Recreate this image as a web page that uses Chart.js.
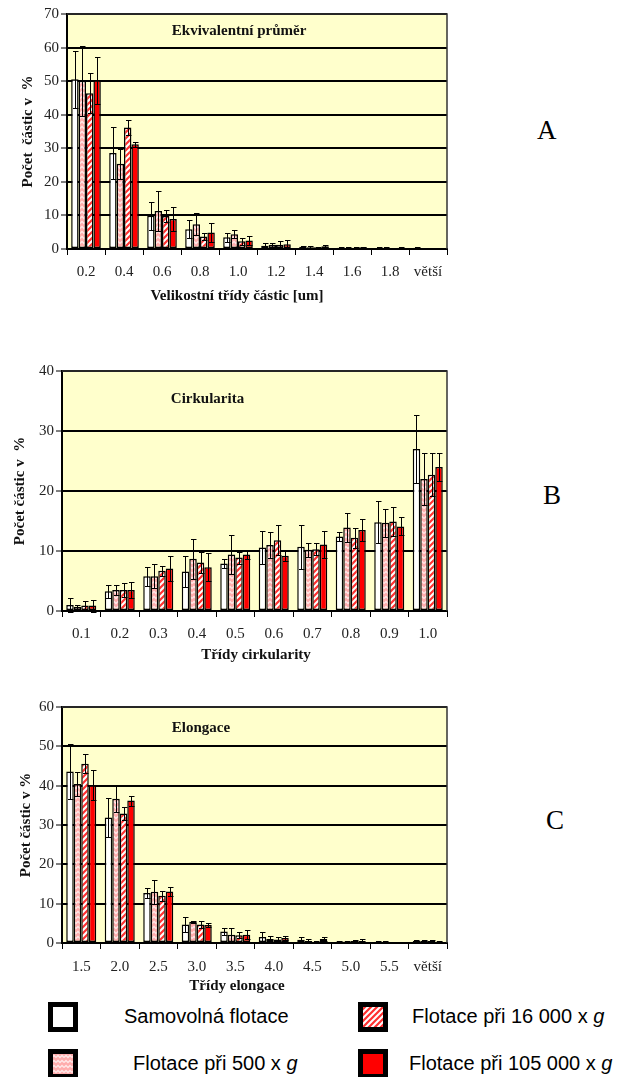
<!DOCTYPE html>
<html lang="cs">
<head>
<meta charset="utf-8">
<title>Počet částic v %</title>
<script src="https://cdn.jsdelivr.net/npm/chart.js@4.4.1/dist/chart.umd.min.js"></script>
<style>
  html, body { margin: 0; padding: 0; background: #fff; }
  body { width: 630px; height: 1077px; position: relative; overflow: hidden; }
  .panel { position: absolute; left: 0; }
  .letter { position: absolute; font-family: "Liberation Serif", "Times New Roman", serif; font-size: 27px; line-height: 30px; color: #000; }
  .lg-box { position: absolute; }
  .lg-text { position: absolute; font-family: "Liberation Sans", Arial, sans-serif; font-size: 20px; line-height: 24px; color: #000; white-space: nowrap; }
</style>
</head>
<body>
<canvas id="chartA" class="panel" width="460" height="310" style="top:0px"></canvas>
<canvas id="chartB" class="panel" width="460" height="330" style="top:340px"></canvas>
<canvas id="chartC" class="panel" width="460" height="320" style="top:680px"></canvas>

<div class="letter" style="left:537px; top:115px">A</div>
<div class="letter" style="left:543px; top:480px">B</div>
<div class="letter" style="left:546px; top:805px">C</div>

<canvas id="lg0" class="lg-box" width="30" height="30" style="left:48px; top:1002px"></canvas>
<div class="lg-text" style="left:124px; top:1004px">Samovolná flotace</div>
<canvas id="lg2" class="lg-box" width="30" height="30" style="left:358px; top:1002px"></canvas>
<div class="lg-text" style="left:412px; top:1004px">Flotace při 16 000 x <i>g</i></div>
<canvas id="lg1" class="lg-box" width="30" height="30" style="left:48px; top:1049px"></canvas>
<div class="lg-text" style="left:133px; top:1051px">Flotace při 500 x <i>g</i></div>
<canvas id="lg3" class="lg-box" width="30" height="30" style="left:358px; top:1049px"></canvas>
<div class="lg-text" style="left:409px; top:1051px">Flotace při 105 000 x <i>g</i></div>

<script>
// --- data ---
const seriesNames = ['Samovolná flotace', 'Flotace při 500 x g', 'Flotace při 16 000 x g', 'Flotace při 105 000 x g'];

// A - Ekvivalentni prumer
const sizeClasses = ['0.2', '0.4', '0.6', '0.8', '1.0', '1.2', '1.4', '1.6', '1.8', 'větší'];
const sizeSamovolna = [50.6, 28.6, 9.9, 5.9, 3.5, 1.0, 0.7, 0.4, 0.3, 0.4];
const sizeErrSamovolna = [8.5, 7.7, 4.2, 2.7, 1.4, 0.9, 0.3, 0.2, 0.2, 0.1];
const size500 = [50.1, 25.4, 11.3, 7.4, 4.4, 1.3, 0.5, 0.3, 0.4, 0.3];
const sizeErr500 = [10.5, 4.5, 6.0, 3.3, 1.2, 0.6, 0.3, 0.2, 0.2, 0.1];
const size16000 = [46.4, 36.2, 9.8, 3.7, 2.3, 1.3, 0.5, 0.4, 0.2, 0.2];
const sizeErr16000 = [6.0, 2.2, 1.8, 1.0, 1.0, 1.2, 0.2, 0.2, 0.1, 0.1];
const size105000 = [50.3, 31.2, 8.9, 4.9, 2.5, 1.4, 0.8, 0.5, 0.4, 0.2];
const sizeErr105000 = [7.0, 0.8, 3.5, 2.7, 1.4, 1.3, 0.3, 0.2, 0.2, 0.1];
const sizeTicks = [0, 10, 20, 30, 40, 50, 60, 70];

// B - Cirkularita
const circClasses = ['0.1', '0.2', '0.3', '0.4', '0.5', '0.6', '0.7', '0.8', '0.9', '1.0'];
const circSamovolna = [1.0, 3.3, 5.8, 6.6, 7.9, 10.6, 10.7, 12.4, 14.8, 27.0];
const circErrSamovolna = [1.1, 1.1, 1.6, 2.6, 0.8, 2.8, 3.7, 0.8, 3.5, 5.7];
const circ500 = [0.7, 3.5, 5.8, 8.7, 9.4, 11.0, 10.2, 13.9, 14.7, 22.0];
const circErr500 = [0.3, 0.9, 2.0, 3.3, 3.3, 2.1, 1.2, 2.4, 2.3, 4.3];
const circ16000 = [0.9, 3.5, 6.7, 8.1, 8.9, 11.8, 10.3, 12.2, 14.9, 22.7];
const circErr16000 = [0.7, 1.1, 0.8, 1.8, 1.0, 2.5, 1.0, 1.7, 2.4, 3.6];
const circ105000 = [0.9, 3.5, 7.1, 7.3, 9.4, 9.2, 11.1, 13.5, 14.1, 24.0];
const circErr105000 = [1.0, 1.3, 2.1, 2.3, 0.7, 0.8, 2.2, 1.8, 1.5, 2.3];
const circTicks = [0, 10, 20, 30, 40];

// C - Elongace
const elongClasses = ['1.5', '2.0', '2.5', '3.0', '3.5', '4.0', '4.5', '5.0', '5.5', 'větší'];
const elongSamovolna = [43.6, 31.9, 12.7, 4.7, 2.9, 1.5, 0.8, 0.4, 0.3, 0.5];
const elongErrSamovolna = [7.0, 4.9, 1.2, 1.8, 0.9, 1.2, 0.6, 0.2, 0.1, 0.2];
const elong500 = [40.4, 36.7, 13.0, 5.4, 2.1, 1.0, 0.5, 0.4, 0.3, 0.6];
const elongErr500 = [3.0, 3.4, 3.0, 0.3, 1.8, 0.7, 0.5, 0.2, 0.1, 0.2];
const elong16000 = [45.6, 32.9, 12.0, 4.7, 2.0, 0.9, 0.3, 0.5, 0.2, 0.5];
const elongErr16000 = [2.4, 1.7, 1.2, 0.8, 0.7, 0.5, 0.2, 0.2, 0.1, 0.2];
const elong105000 = [40.1, 36.2, 13.1, 4.6, 2.1, 1.3, 1.0, 0.5, 0.2, 0.4];
const elongErr105000 = [3.8, 1.3, 1.2, 0.6, 1.1, 0.5, 0.4, 0.5, 0.1, 0.2];
const elongTicks = [0, 10, 20, 30, 40, 50, 60];

const SERIF = '"Liberation Serif", "Times New Roman", serif';

// --- fills ---
function wavePattern() {
    const c = document.createElement('canvas');
    c.width = 8; c.height = 5;
    const g = c.getContext('2d');
    g.fillStyle = '#ffacac';
    g.fillRect(0, 0, 8, 5);
    g.strokeStyle = '#ffe8e8';
    g.lineWidth = 1.4;
    g.beginPath();
    g.moveTo(0, 3.5); g.lineTo(2, 1.5); g.lineTo(4, 3.5); g.lineTo(6, 1.5); g.lineTo(8, 3.5);
    g.stroke();
    return g.createPattern(c, 'repeat');
}

function stripePattern() {
    const c = document.createElement('canvas');
    c.width = 6; c.height = 6;
    const g = c.getContext('2d');
    g.fillStyle = '#ffffff';
    g.fillRect(0, 0, 6, 6);
    g.strokeStyle = '#ff3030';
    g.lineWidth = 2.2;
    g.beginPath();
    g.moveTo(-1, 7); g.lineTo(7, -1);
    g.moveTo(-4, 4); g.lineTo(4, -4);
    g.moveTo(2, 10); g.lineTo(10, 2);
    g.stroke();
    return g.createPattern(c, 'repeat');
}

const fills = ['#ffffff', wavePattern(), stripePattern(), '#ff0000'];

// --- plugins ---
// yellow plot area, dark frame, title inside the plot and the x axis title
const plotFrame = {
    id: 'plotFrame',
    beforeDraw(chart) {
        const { ctx, chartArea: a } = chart;
        ctx.save();
        ctx.fillStyle = '#ffffcc';
        ctx.fillRect(a.left, a.top, a.width, a.height);
        ctx.restore();
    },
    beforeDatasetsDraw(chart) {
        const { ctx, chartArea: a } = chart;
        ctx.save();
        ctx.strokeStyle = '#333';
        ctx.lineWidth = 1.5;
        ctx.beginPath();
        ctx.moveTo(a.left, a.top);
        ctx.lineTo(a.right, a.top);
        ctx.lineTo(a.right, a.bottom);
        ctx.stroke();
        ctx.restore();
    },
    afterDraw(chart, args, opts) {
        const { ctx, chartArea: a } = chart;
        ctx.save();
        ctx.font = 'bold 15px ' + SERIF;
        ctx.fillStyle = '#111';
        ctx.textAlign = 'center';
        ctx.textBaseline = 'middle';
        ctx.fillText(opts.text, a.left + opts.tx * a.width, a.top + opts.ty);
        ctx.fillText(opts.xTitle, opts.xtx, opts.xty);
        ctx.restore();
    }
};

const errorBars = {
    id: 'errorBars',
    afterDatasetsDraw(chart) {
        const ctx = chart.ctx;
        const y = chart.scales.y;
        ctx.save();
        ctx.strokeStyle = '#000';
        ctx.lineWidth = 1;
        chart.data.datasets.forEach((ds, i) => {
            chart.getDatasetMeta(i).data.forEach((bar, j) => {
                const e = ds.errors[j];
                if (!e) return;
                const v = ds.data[j];
                const top = Math.round(y.getPixelForValue(v + e)) + 0.5;
                const bot = Math.round(y.getPixelForValue(v - e)) + 0.5;
                const x = Math.round(bar.x) + 0.5;
                ctx.beginPath();
                ctx.moveTo(x, top); ctx.lineTo(x, bot);
                ctx.moveTo(x - 2.5, top); ctx.lineTo(x + 3, top);
                ctx.moveTo(x - 2.5, bot); ctx.lineTo(x + 3, bot);
                ctx.stroke();
            });
        });
        ctx.restore();
    }
};

function makeChart(id, cfg) {
    const datasets = cfg.values.map((vals, i) => ({
        label: seriesNames[i],
        data: vals,
        errors: cfg.errors[i],
        backgroundColor: fills[i],
        borderColor: '#000',
        borderWidth: 1.5,
        borderSkipped: false,
        categoryPercentage: 0.78,
        barPercentage: 1.0
    }));
    return new Chart(document.getElementById(id), {
        type: 'bar',
        data: { labels: cfg.labels, datasets: datasets },
        options: {
            responsive: false,
            animation: false,
            layout: { padding: { top: cfg.padTop, right: 13, left: 0, bottom: 0 } },
            plugins: {
                legend: { display: false },
                tooltip: { enabled: false },
                plotFrame: { text: cfg.title, tx: cfg.tx, ty: cfg.ty, xTitle: cfg.xTitle, xtx: cfg.xtx, xty: cfg.xty }
            },
            scales: {
                x: {
                    ticks: { color: '#222', font: { family: SERIF, size: 15 }, padding: cfg.xTickPad, autoSkip: false, maxRotation: 0 },
                    grid: { display: true, drawOnChartArea: false, offset: true, tickLength: 6, color: '#000', lineWidth: 1 },
                    border: { color: '#000', width: 2 },
                    afterFit(s) { s.height = cfg.xHeight; }
                },
                y: {
                    min: 0,
                    max: cfg.ticks[cfg.ticks.length - 1],
                    afterBuildTicks(s) { s.ticks = cfg.ticks.map(v => ({ value: v })); },
                    ticks: { color: '#222', font: { family: SERIF, size: 15 }, padding: 2 },
                    grid: { color: '#000', lineWidth: 2, tickLength: 6, tickColor: '#000', tickWidth: 1 },
                    border: { color: '#000', width: 2 },
                    title: { display: true, text: cfg.yTitle, color: '#111', font: { family: SERIF, size: 15, weight: 'bold' }, padding: { top: cfg.yTitlePad, bottom: 0 } },
                    afterFit(s) { s.width = cfg.yWidth; }
                }
            }
        },
        plugins: [plotFrame, errorBars]
    });
}

makeChart('chartA', {
    labels: sizeClasses,
    values: [sizeSamovolna, size500, size16000, size105000],
    errors: [sizeErrSamovolna, sizeErr500, sizeErr16000, sizeErr105000],
    ticks: sizeTicks,
    title: 'Ekvivalentní průměr', tx: 0.453, ty: 17,
    xTitle: 'Velikostní třídy částic [um]', xtx: 237, xty: 296,
    yTitle: 'Počet  částic v  %',
    padTop: 14, xHeight: 61, xTickPad: 8, yWidth: 67, yTitlePad: 19
});

makeChart('chartB', {
    labels: circClasses,
    values: [circSamovolna, circ500, circ16000, circ105000],
    errors: [circErrSamovolna, circErr500, circErr16000, circErr105000],
    ticks: circTicks,
    title: 'Cirkularita', tx: 0.378, ty: 28,
    xTitle: 'Třídy cirkularity', xtx: 256, xty: 315,
    yTitle: 'Počet částic v  %',
    padTop: 31, xHeight: 59, xTickPad: 8, yWidth: 62, yTitlePad: 11
});

makeChart('chartC', {
    labels: elongClasses,
    values: [elongSamovolna, elong500, elong16000, elong105000],
    errors: [elongErrSamovolna, elongErr500, elongErr16000, elongErr105000],
    ticks: elongTicks,
    title: 'Elongace', tx: 0.361, ty: 21,
    xTitle: 'Třídy elongace', xtx: 237, xty: 306,
    yTitle: 'Počet částic v %',
    padTop: 27, xHeight: 57, xTickPad: 9, yWidth: 62, yTitlePad: 17
});

// legend swatches
fills.forEach((f, i) => {
    const g = document.getElementById('lg' + i).getContext('2d');
    g.fillStyle = '#000';
    g.fillRect(0, 0, 30, 30);
    g.fillStyle = '#fff';
    g.fillRect(5, 5, 20, 20);
    g.fillStyle = f;
    g.fillRect(5, 5, 20, 20);
});
</script>
</body>
</html>
